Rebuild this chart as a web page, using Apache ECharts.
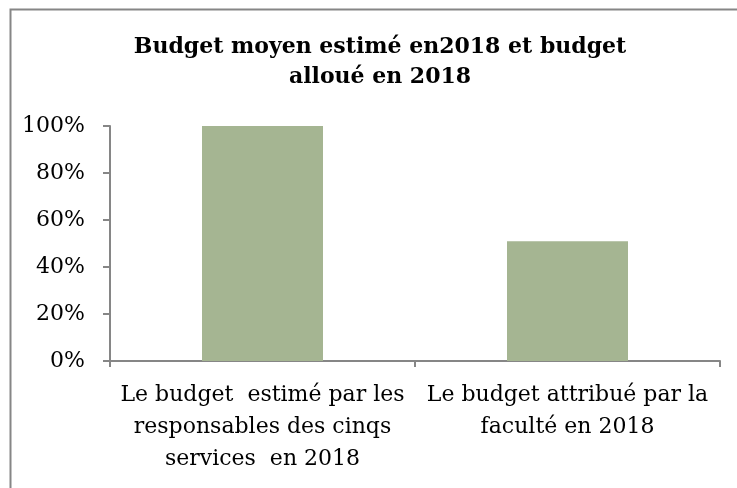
<!DOCTYPE html>
<html>
<head>
<meta charset="utf-8">
<script src="https://cdn.jsdelivr.net/npm/echarts@6/dist/echarts.min.js"></script>
<style>
  html, body { margin: 0; padding: 0; background: #fff; }
  #chart { width: 737px; height: 488px; }
</style>
</head>
<body>
<div id="chart"></div>
<script type="text/javascript">
  // chart data
  var categories = [
    "Le budget  estimé par les\nresponsables des cinqs\nservices  en 2018",
    "Le budget attribué par la\nfaculté en 2018"
  ];
  var budgetValues = [1.00, 0.51];
  var titleText = "Budget moyen estimé en2018 et budget\nalloué en 2018";

  var myChart = echarts.init(document.getElementById('chart'), null, { renderer: 'canvas' });

  var axisGray = '#868686';
  var serif = '"DejaVu Serif", serif';

  var option = {
    backgroundColor: '#fff',
    animation: false,
    title: {
      text: titleText,
      // title sits a bit right of the chart centre
      left: 375,
      textAlign: 'center',
      top: 27,
      textStyle: {
        fontFamily: serif,
        fontWeight: 'bold',
        fontSize: 22,
        lineHeight: 30,
        color: '#000'
      }
    },
    grid: {
      left: 110,
      right: 17,
      top: 126,
      bottom: 127
    },
    xAxis: {
      type: 'category',
      data: categories,
      axisLine: { lineStyle: { color: axisGray, width: 2 } },
      axisTick: { show: true, length: 6, lineStyle: { color: axisGray, width: 2 } },
      axisLabel: {
        interval: 0,
        margin: 18,
        fontFamily: serif,
        fontSize: 22,
        lineHeight: 32,
        color: '#000'
      }
    },
    yAxis: {
      type: 'value',
      min: 0,
      max: 1,
      interval: 0.2,
      splitLine: { show: false },
      axisLine: { show: true, lineStyle: { color: axisGray, width: 2 } },
      axisTick: { show: true, length: 7, lineStyle: { color: axisGray, width: 2 } },
      axisLabel: {
        margin: 25,
        fontFamily: serif,
        fontSize: 22,
        color: '#000',
        formatter: function (v) {
          return Math.round(v * 100) + '%';
        }
      }
    },
    series: [
      {
        type: 'bar',
        data: budgetValues,
        barWidth: 121,
        itemStyle: { color: '#A5B592' }
      }
    ],
    graphic: {
      elements: [
        {
          // outer chart-area border, right/bottom edges fall outside the picture
          type: 'rect',
          left: 8,
          top: 7,
          shape: { width: 900, height: 700 },
          style: { fill: null, stroke: axisGray, lineWidth: 2 },
          silent: true
        }
      ]
    }
  };
  myChart.setOption(option);
</script>
</body>
</html>
